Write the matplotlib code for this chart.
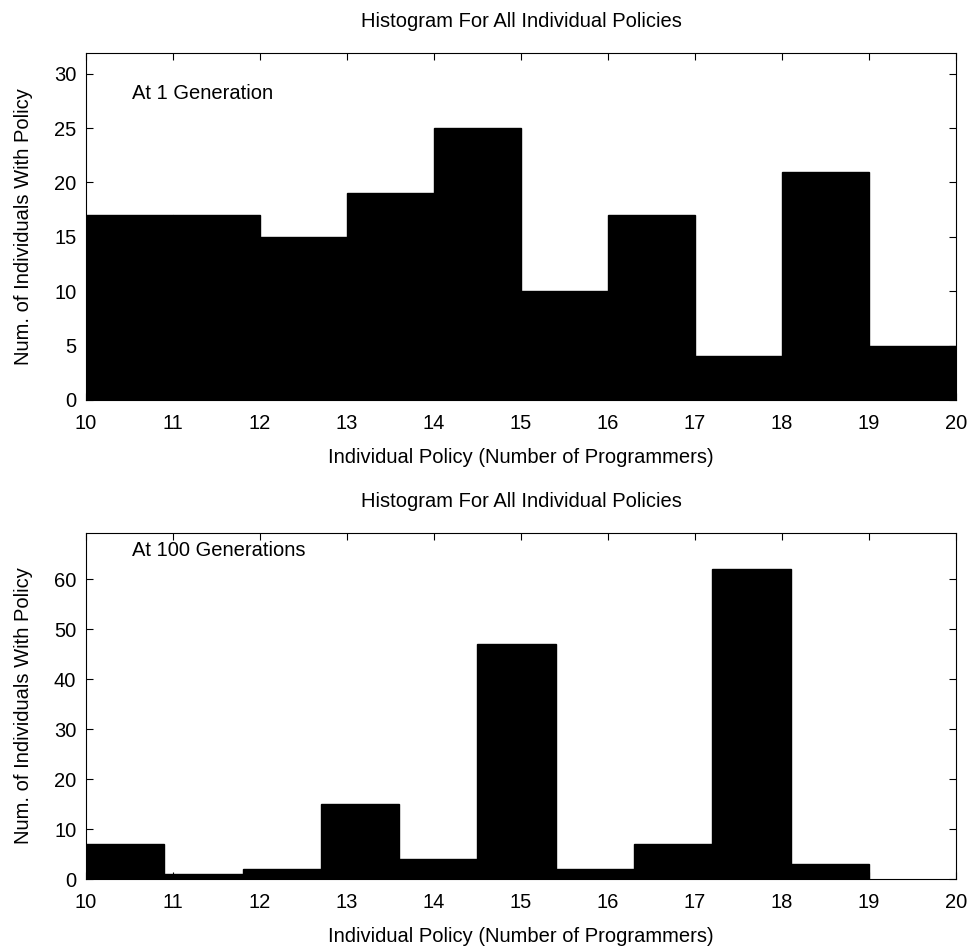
import matplotlib
matplotlib.use("Agg")
import matplotlib.pyplot as plt
import numpy as np

plt.rcParams['font.family'] = ['Liberation Sans', 'DejaVu Sans']

# Data
edges_gen1 = [10, 11, 12, 13, 14, 15, 16, 17, 18, 19, 20]
counts_gen1 = [17, 17, 15, 19, 25, 10, 17, 4, 21, 5]
edges_gen100 = [10.0, 10.9, 11.8, 12.7, 13.6, 14.5, 15.4, 16.3, 17.2, 18.1, 19.0]
counts_gen100 = [7, 1, 2, 15, 4, 47, 2, 7, 62, 3]
xticks = list(range(10, 21))
yticks_top = [0, 5, 10, 15, 20, 25, 30]
yticks_bot = [0, 10, 20, 30, 40, 50, 60]

title = "Histogram For All Individual Policies"
xlabel = "Individual Policy (Number of Programmers)"
ylabel = "Num. of Individuals With Policy"

fig = plt.figure(figsize=(9.75, 9.51), dpi=100)
ax1 = fig.add_axes([0.0882, 0.5794, 0.8923, 0.3649])
ax2 = fig.add_axes([0.0882, 0.0757, 0.8923, 0.3638])

FS = 14.5

def draw(ax, edges, counts, yticks, ylim, label, label_y):
    e = np.array(edges)
    ax.bar(e[:-1], counts, width=np.diff(e), align='edge', color='black',
           edgecolor='black', linewidth=1.0)
    ax.set_xlim(10, 20)
    ax.set_ylim(0, ylim)
    ax.set_xticks(xticks)
    ax.set_yticks(yticks)
    ax.tick_params(direction='in', top=True, right=True, length=5, width=0.8,
                   labelsize=FS)
    ax.tick_params(axis='x', pad=10)
    ax.tick_params(axis='y', pad=7)
    ax.set_title(title, fontsize=FS, pad=19)
    ax.set_xlabel(xlabel, fontsize=FS, labelpad=11)
    ax.set_ylabel(ylabel, fontsize=FS, labelpad=15)
    ax.text(10.53, label_y, label, fontsize=FS, va='center', ha='left')
    for s in ax.spines.values():
        s.set_linewidth(0.8)

draw(ax1, edges_gen1, counts_gen1, yticks_top, 31.9, "At 1 Generation", 28.2)
draw(ax2, edges_gen100, counts_gen100, yticks_bot, 69.2, "At 100 Generations", 65.7)

fig.savefig("out.png", dpi=100, facecolor='white')
